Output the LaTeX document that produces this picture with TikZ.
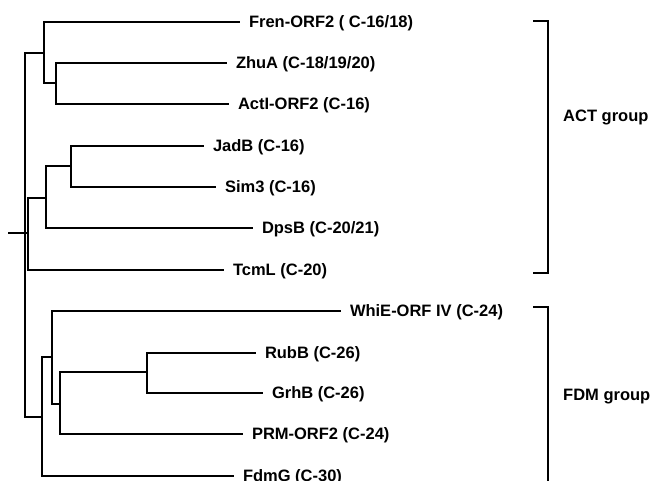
\documentclass[tikz,border=0pt]{standalone}
\usepackage{fontspec}
\setmainfont{Liberation Sans}
\usetikzlibrary{positioning}

\begin{document}
\begin{tikzpicture}[
    x=1pt, y=-1pt, font=\bfseries\fontsize{16.5}{19}\selectfont,
    leaf/.style={anchor=west, inner sep=0pt, outer xsep=10pt,
      text height=11.8pt, text depth=0pt},
    grp/.style={anchor=west, inner sep=0pt,
      text height=11.8pt, text depth=0pt},
    branch/.style={line width=2pt, line cap=rect},
    brk/.style={line width=1.4pt}
]
\useasboundingbox (0,0) rectangle (651,481);
% internal nodes of the tree
\coordinate (r0) at (9,233);
\coordinate (r)  at (25,233);
\coordinate (a)  at (44,53);
\coordinate (z)  at (56,83);
\coordinate (b)  at (28,233);
\coordinate (c)  at (46,198);
\coordinate (jd) at (71,166);
\coordinate (f)  at (42,417);
\coordinate (g)  at (52,357);
\coordinate (h)  at (60,404);
\coordinate (k)  at (147,372);
% leaves
\foreach \nm/\x/\y/\txt in {fren/239/22/{Fren-ORF2 ( C-16/18)},
    zhua/226/63/{ZhuA (C-18/19/20)}, actl/228/104/{ActI-ORF2 (C-16)},
    jadb/203/146/{JadB (C-16)}, sim3/215/187/{Sim3 (C-16)},
    dpsb/252/228/{DpsB (C-20/21)}, tcml/223/270/{TcmL (C-20)},
    whie/340/311/{WhiE-ORF IV (C-24)}, rubb/255/353/{RubB (C-26)},
    grhb/262/393/{GrhB (C-26)}, prm/242/434/{PRM-ORF2 (C-24)},
    fdmg/233/476/{FdmG (C-30)}}{
  \node[leaf] (\nm) at (\x,\y) {\txt};
}
\draw[branch] (r0) -- (r);
\foreach \p/\c in {r/a, r/b, r/f, a/fren.west, a/z, z/zhua.west,
    z/actl.west, b/c, b/tcml.west, c/jd, c/dpsb.west, jd/jadb.west,
    jd/sim3.west, f/g, f/fdmg.west, g/whie.west, g/h, h/k,
    h/prm.west, k/rubb.west, k/grhb.west}{
  \draw[branch] (\p) |- (\c);
}
% group brackets
\draw[brk] (533,21) -- (548,21) -- (548,273) -- (533,273);
\draw[brk] (533,307) -- (548,307) -- (548,485);
\node[grp] (act) at (563,116) {ACT group};
\node[grp] (fdm) at (563,395) {FDM group};
\end{tikzpicture}
\end{document}
